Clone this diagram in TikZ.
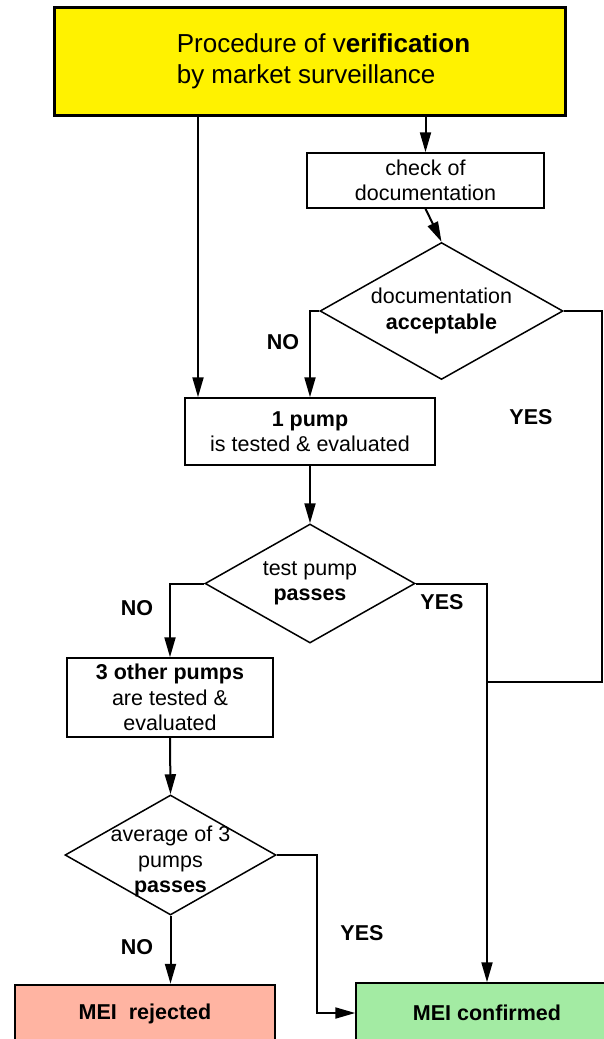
\documentclass[tikz,border=0pt]{standalone}
\usepackage{fontspec}
\setmainfont{Liberation Sans}
\usetikzlibrary{shapes.geometric, arrows.meta}
\definecolor{rejfill}{HTML}{FFB4A2}
\definecolor{conffill}{HTML}{A3EBA3}

\begin{document}
\begin{tikzpicture}[x=1pt, y=-1pt,
    every node/.style={inner sep=0pt, align=center, font=\fontsize{21.5}{25.5}\selectfont},
    box/.style={draw, rectangle, line width=1.5pt},
    ask/.style={draw, diamond, line width=1.5pt},
    arr/.style={line width=2pt, -{Triangle[length=20pt, width=11pt]}},
    ln/.style={line width=2pt},
    yn/.style={font=\fontsize{21.5}{25.5}\selectfont\bfseries}]
    \useasboundingbox (0,0) rectangle (603,1039);

    % 方框
    \node[box, fill=yellow, line width=3pt, minimum width=511pt, minimum height=108pt,
          label={[xshift=14pt, align=left, font=\fontsize{26}{31}\selectfont]center:{Procedure of v\textbf{erification}\\by market surveillance}}]
          (start) at (309.5,61) {};
    \node[box, minimum width=237pt, minimum height=55pt] (check) at (425.5,180.5) {check of\\documentation};
    \node[box, minimum width=250pt, minimum height=67pt] (pump1) at (310,431.5) {\textbf{1 pump}\\is tested \& evaluated};
    \node[box, minimum width=206pt, minimum height=79pt] (pump3) at (170,697.5) {\textbf{3 other pumps}\\are tested \&\\evaluated};
    \node[box, fill=rejfill, line width=2.5pt, minimum width=260pt, minimum height=58pt] (rej) at (145,1014) {\textbf{MEI\ \ rejected}};
    \node[box, fill=conffill, minimum width=262pt, minimum height=60pt] (conf) at (487,1013) {\textbf{MEI confirmed}};

    % 菱形
    \node[ask, minimum width=243pt, minimum height=137pt,
          label={center:{documentation\\\textbf{acceptable}}}] (d1) at (441.5,311) {};
    \node[ask, minimum width=210pt, minimum height=119pt,
          label={center:{test pump\\\textbf{passes}}}] (d2) at (310,583.5) {};
    \node[ask, minimum width=211pt, minimum height=120pt,
          label={[yshift=-6.5pt]center:{average of 3\\pumps\\\textbf{passes}}}] (d3) at (170.5,855) {};

    % 连线
    \coordinate (inL) at ([xshift=-112pt]pump1.north);
    \coordinate (edge) at (602,682);
    \coordinate (join) at (edge -| conf.north);
    \draw[arr] (start.south -| check.north) -- (check.north);
    \draw[arr] (start.south -| inL) -- (inL);
    \draw[arr] (check.south) -- (d1.north);
    \draw[arr] (d1.west) -| (pump1.north);
    \draw[ln] (d1.east) -| (edge) -- (join);
    \draw[arr] (pump1.south) -- (d2.north);
    \draw[arr] (d2.west) -| (pump3.north);
    \draw[arr] (d2.east) -| (conf.north);
    \draw[arr] (pump3.south) -- (d3.north);
    \draw[arr] (d3.south) -- (d3.south |- rej.north);
    \draw[arr] (d3.east) -- ++(40,0) |- (conf.west);

    % NO / YES
    \foreach \n/\x/\y/\t in {no1/283/342/NO, yes1/531/417/YES, no2/137/608/NO,
                             yes2/442/602/YES, no3/137/947/NO, yes3/362/933/YES}
        \node[yn] (\n) at (\x,\y) {\t};
\end{tikzpicture}
\end{document}
